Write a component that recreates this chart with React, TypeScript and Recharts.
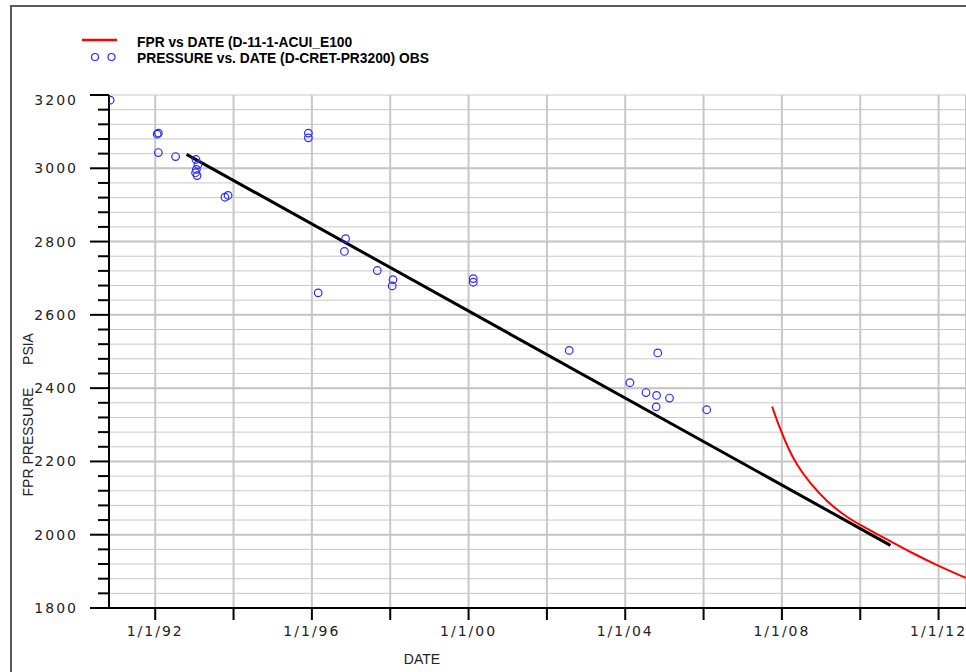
import React from 'react';
import {
  ComposedChart, Line, Scatter, XAxis, YAxis, CartesianGrid, ReferenceLine,
} from 'recharts';

// simulated FPR (red curve)
const fprYears = [2007.75, 2007.86, 2007.99, 2008.16, 2008.37, 2008.71, 2009.14, 2009.65, 2009.99, 2010.67, 2011.27, 2011.95, 2012.7];
const fprPsia = [2350, 2316, 2280, 2236, 2192, 2141, 2091, 2048, 2027, 1988, 1953, 1917, 1882];

// observed pressure points
const obsYears = [
  1990.85, 1992.05, 1992.08, 1992.08, 1992.52, 1993.04, 1993.09, 1993.05, 1993.03, 1993.07,
  1993.78, 1993.86, 1995.91, 1995.91, 1996.16, 1996.86, 1996.83, 1997.67, 1998.07, 1998.05,
  2000.12, 2000.12, 2002.57, 2004.12, 2004.53, 2004.8, 2004.83, 2005.13, 2004.79, 2006.08,
];
const obsPsia = [
  3186, 3093, 3096, 3043, 3032, 3024, 3010, 2997, 2988, 2980,
  2921, 2926, 3096, 3083, 2660, 2808, 2773, 2721, 2696, 2679,
  2699, 2689, 2503, 2415, 2388, 2380, 2496, 2373, 2349, 2341,
];

// straight trend line drawn over the data
const trendYears = [1992.8, 2010.77];
const trendPsia = [3038, 1971];

const yTicks: number[] = [];
for (let v = 1800; v <= 3200; v += 40) yTicks.push(v);
const yMajor = [1800, 2000, 2200, 2400, 2600, 2800, 3000, 3200];
const xTicks = [1992, 1994, 1996, 1998, 2000, 2002, 2004, 2006, 2008, 2010, 2012];
const xLabelled = [1992, 1996, 2000, 2004, 2008, 2012];

const fprData = fprYears.map((year, i) => ({ year, psi: fprPsia[i] }));
const obsData = obsYears.map((year, i) => ({ year, psi: obsPsia[i] }));
const trendData = trendYears.map((year, i) => ({ year, psi: trendPsia[i] }));

const tickFont = { fontFamily: 'DejaVu Sans', fontSize: 14, letterSpacing: 2, fill: '#222' };

function YTick(props: any) {
  const { x, y, payload } = props;
  const major = yMajor.includes(payload.value);
  // top label sits a little lower so it stays clear of the frame
  const shift = payload.value === 3200 ? 5 : 0;
  return (
    <g>
      <line x1={x - (major ? 19 : 11)} x2={x} y1={y} y2={y} stroke="#000" strokeWidth={2} />
      {major && (
        <text x={x - 31} y={y + 5 + shift} textAnchor="end" {...tickFont}>
          {payload.value}
        </text>
      )}
    </g>
  );
}

function XTick(props: any) {
  const { x, y, payload } = props;
  const v = Math.round(payload.value);
  const label = '1/1/' + String(v % 100).padStart(2, '0');
  return (
    <g>
      <line x1={x} x2={x} y1={y} y2={y + 12} stroke="#000" strokeWidth={2} />
      {xLabelled.includes(v) && (
        <text x={x} y={y + 28} textAnchor="middle" {...tickFont}>
          {label}
        </text>
      )}
    </g>
  );
}

function BlueCircle(props: any) {
  const { cx, cy } = props;
  return <circle cx={cx} cy={cy} r={3.8} fill="none" stroke="#2a2aff" strokeWidth={1.2} />;
}

export default function App() {
  return (
    <div style={{ position: 'absolute', left: 0, top: 0, width: 966, height: 672, overflow: 'hidden', background: '#fff' }}>
      <div style={{ position: 'absolute', left: 10, top: 5, width: 1000, height: 700, borderLeft: '2px solid #5a5a5a', borderTop: '2px solid #5a5a5a' }} />
      <div style={{ position: 'absolute', left: 0, top: 0 }}>
        <ComposedChart width={966} height={672} margin={{ top: 95, right: 0, bottom: 0, left: 0 }}>
          <CartesianGrid vertical={false} stroke="#c8c8c8" strokeWidth={1} />
          <CartesianGrid horizontal={false} stroke="#c8c8c8" strokeWidth={2} />
          {yMajor.slice(1, -1).map((v) => (
            <ReferenceLine key={v} y={v} stroke="#c4c4c4" strokeWidth={2} />
          ))}
          <XAxis
            dataKey="year"
            type="number"
            domain={[1990.82, 2012.7]}
            allowDataOverflow
            ticks={xTicks}
            interval={0}
            height={64}
            tickSize={0}
            tickMargin={0}
            tickLine={false}
            axisLine={{ stroke: '#000', strokeWidth: 2 }}
            tick={<XTick />}
          />
          <YAxis
            dataKey="psi"
            type="number"
            domain={[1800, 3200]}
            allowDataOverflow
            ticks={yTicks}
            interval={0}
            width={109}
            tickSize={0}
            tickMargin={0}
            tickLine={false}
            axisLine={{ stroke: '#000', strokeWidth: 2 }}
            tick={<YTick />}
          />
          <Line data={fprData} dataKey="psi" type="basis" stroke="#ff0000" strokeWidth={2} dot={false} isAnimationActive={false} />
          <Scatter data={obsData} dataKey="psi" shape={<BlueCircle />} isAnimationActive={false} />
          <Line data={trendData} dataKey="psi" type="linear" stroke="#000" strokeWidth={3} dot={false} isAnimationActive={false} />
        </ComposedChart>
      </div>
      <svg width={966} height={672} style={{ position: 'absolute', left: 0, top: 0, pointerEvents: 'none' }}>
        <line x1={82} x2={117} y1={40} y2={40} stroke="#ff0000" strokeWidth={2.5} />
        <circle cx={95} cy={57} r={3.5} fill="none" stroke="#2a2aff" strokeWidth={1.2} />
        <circle cx={111.5} cy={57} r={3.5} fill="none" stroke="#2a2aff" strokeWidth={1.2} />
        <g fontFamily="Liberation Sans" fontWeight="bold" fontSize={13.8} fill="#000">
          <text x={137} y={46.5}>FPR vs DATE (D-11-1-ACUI_E100</text>
          <text x={137} y={63.3}>PRESSURE vs. DATE (D-CRET-PR3200) OBS</text>
        </g>
        <g fontFamily="Liberation Sans" fontSize={14} fill="#222">
          <text x={33} y={442} textAnchor="middle" transform="rotate(-90, 33, 442)">FPR PRESSURE</text>
          <text x={33} y={349} textAnchor="middle" transform="rotate(-90, 33, 349)">PSIA</text>
          <text x={422} y={664} textAnchor="middle">DATE</text>
        </g>
      </svg>
    </div>
  );
}
